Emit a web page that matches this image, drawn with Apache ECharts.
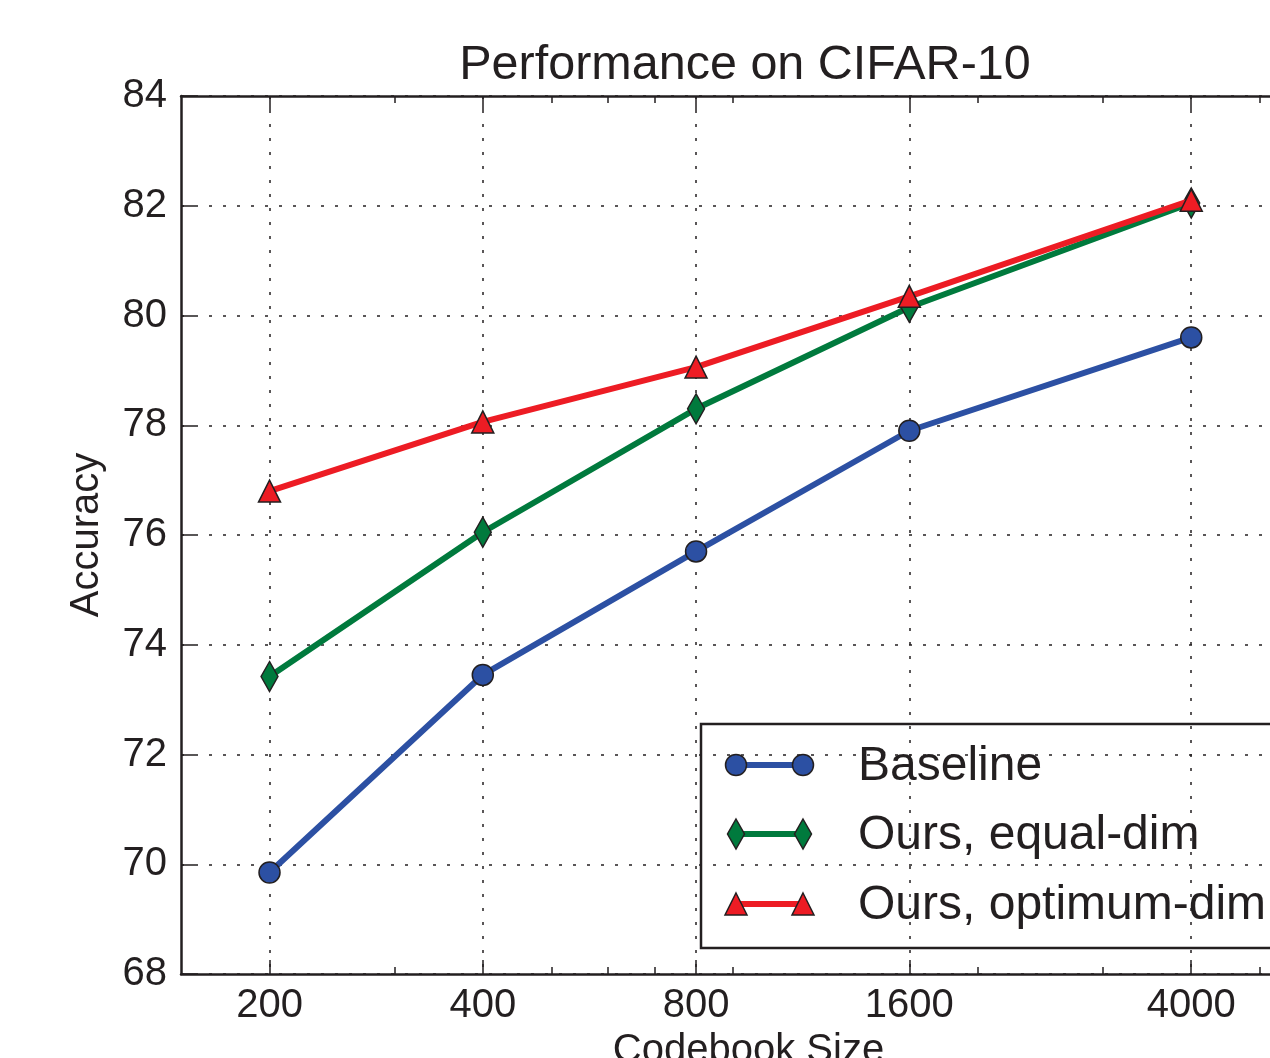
<!DOCTYPE html>
<html>
<head>
<meta charset="utf-8">
<title>Performance on CIFAR-10</title>
<script src="https://cdn.jsdelivr.net/npm/echarts@6/dist/echarts.min.js"></script>
<style>
    html, body { margin: 0; padding: 0; background: #fff; }
    #chart { width: 1270px; height: 1058px; }
</style>
</head>
<body>
<div id="chart"></div>
<script>
// codebook sizes (x, log scale) and accuracy per method
const codebookSizes = [200, 400, 800, 1600, 4000];
const minorTicks = [300, 500, 600, 700, 900, 2000, 3000, 5000];
const baseline = [69.85, 73.45, 75.7, 77.9, 79.6];
const equalDim = [73.42, 76.05, 78.3, 80.15, 82.05];
const optimumDim = [76.8, 78.06, 79.06, 80.35, 82.1];

const seriesNames = ['Baseline', 'Ours, equal-dim', 'Ours, optimum-dim'];
const seriesColors = ['#2c50a3', '#007a3d', '#ed1c24'];
const seriesSymbols = ['circle', 'diamond', 'triangle'];
const symbolSizes = [21, [17, 30], [22, 22]];

const ink = '#231f20';
const font = '"Liberation Sans", Arial, Helvetica, sans-serif';

let chart = echarts.init(document.getElementById('chart'), null, {renderer: 'canvas'});

let dotted = {show: true, lineStyle: {color: ink, width: 1.5, type: [3, 11]}};

function logAxis(position, ticks, tickLen, opts) {
    return Object.assign({
        type: 'log',
        logBase: 10,
        position: position,
        min: 150,
        max: 6000,
        axisLine: {show: false},
        axisTick: {show: true, inside: true, length: tickLen, customValues: ticks,
            lineStyle: {color: ink, width: 1.5}},
        axisLabel: {show: false},
        splitLine: {show: false},
        minorTick: {show: false},
        minorSplitLine: {show: false}
    }, opts || {});
}

let xAxes = [
    logAxis('bottom', codebookSizes, 14, {
        axisLine: {show: true, onZero: false, lineStyle: {color: ink, width: 2.5}},
        axisLabel: {show: true, customValues: codebookSizes, fontSize: 40, fontFamily: font,
            color: ink, margin: 12, formatter: v => String(Math.round(v))},
        splitLine: dotted,
        name: 'Codebook Size',
        nameLocation: 'middle',
        nameGap: 52,
        nameTextStyle: {fontSize: 40, fontFamily: font, color: ink}
    }),
    logAxis('bottom', minorTicks, 7),
    logAxis('top', codebookSizes, 14, {
        axisLine: {show: true, onZero: false, lineStyle: {color: ink, width: 2.5}}
    }),
    logAxis('top', minorTicks, 7)
];

let dataSets = [baseline, equalDim, optimumDim];
let series = dataSets.map((vals, i) => ({
    name: seriesNames[i],
    type: 'line',
    xAxisIndex: 0,
    yAxisIndex: 0,
    data: codebookSizes.map((s, j) => [s, vals[j]]),
    symbol: seriesSymbols[i],
    symbolSize: symbolSizes[i],
    showAllSymbol: true,
    lineStyle: {color: seriesColors[i], width: 6},
    itemStyle: {color: seriesColors[i], borderColor: ink, borderWidth: 1.5},
    z: 3 + i,
    emphasis: {disabled: true}
}));

// legend box, drawn like the matplotlib one (two markers per row)
let legendItems = [];
let rowY = [765, 834, 904];
seriesNames.forEach((name, i) => {
    let y = rowY[i];
    legendItems.push({
        type: 'line',
        shape: {x1: 736, y1: y, x2: 803, y2: y},
        style: {stroke: seriesColors[i], lineWidth: 6}
    });
    [736, 803].forEach(cx => {
        let shp;
        if (seriesSymbols[i] === 'circle') {
            shp = {type: 'circle', shape: {cx: cx, cy: y, r: 10.5}};
        } else if (seriesSymbols[i] === 'diamond') {
            shp = {type: 'polygon', shape: {points: [[cx, y - 15], [cx + 8.5, y], [cx, y + 15], [cx - 8.5, y]]}};
        } else {
            shp = {type: 'polygon', shape: {points: [[cx, y - 11], [cx + 11, y + 11], [cx - 11, y + 11]]}};
        }
        shp.style = {fill: seriesColors[i], stroke: ink, lineWidth: 1.5};
        legendItems.push(shp);
    });
    legendItems.push({
        type: 'text',
        x: 858,
        y: y + 2,
        style: {text: name, fontSize: 48, fontFamily: font, fill: ink, verticalAlign: 'middle', align: 'left'}
    });
});

let option = {
    animation: false,
    backgroundColor: '#fff',
    title: {
        text: 'Performance on CIFAR-10',
        left: 740,
        top: 36,
        textAlign: 'center',
        textStyle: {fontSize: 48.5, fontWeight: 'normal', fontFamily: font, color: ink}
    },
    grid: {left: 181, top: 96, bottom: 84, width: 1135, containLabel: false, outerBoundsMode: 'none'},
    xAxis: xAxes,
    yAxis: [{
        type: 'value',
        min: 68,
        max: 84,
        interval: 2,
        axisLine: {show: true, onZero: false, lineStyle: {color: ink, width: 2.5}},
        axisTick: {show: true, inside: true, length: 14, lineStyle: {color: ink, width: 1.5}},
        axisLabel: {fontSize: 40, fontFamily: font, color: ink, margin: 14},
        splitLine: dotted,
        name: 'Accuracy',
        nameLocation: 'middle',
        nameGap: 74,
        nameTextStyle: {fontSize: 40, fontFamily: font, color: ink}
    }],
    series: series,
    graphic: [{
        type: 'group',
        z: 100,
        children: [{
            type: 'rect',
            shape: {x: 701, y: 724, width: 640, height: 224},
            style: {fill: '#fff', stroke: ink, lineWidth: 2.5}
        }].concat(legendItems)
    }]
};

chart.setOption(option);
</script>
</body>
</html>
